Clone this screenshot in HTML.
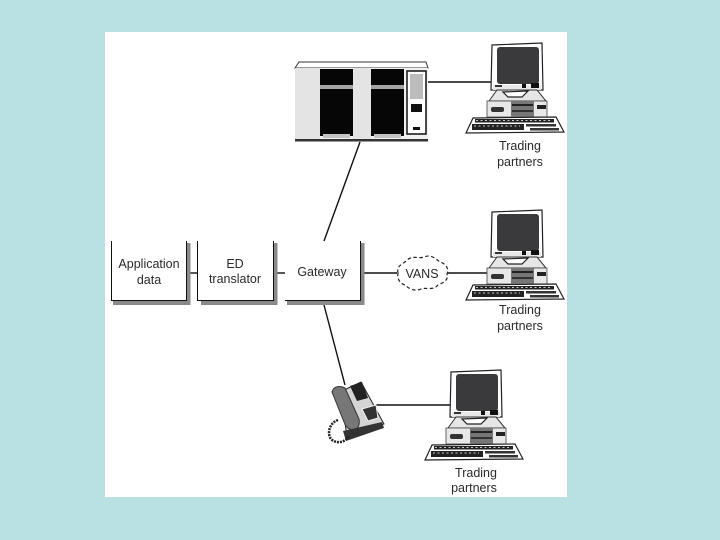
<!DOCTYPE html>
<html>
<head>
<meta charset="utf-8">
<style>
html,body{margin:0;padding:0;background:#b9e1e3;}
svg{display:block;}
text{font-family:"Liberation Sans",sans-serif;font-size:12.5px;fill:#2a2a2a;text-anchor:middle;}
</style>
</head>
<body>
<svg width="720" height="540" viewBox="0 0 720 540" xmlns="http://www.w3.org/2000/svg">
<defs>
<g id="pc">
  <!-- monitor -->
  <path d="M492 212 L542 210 L543 257 L491 257 Z" fill="#fff" stroke="#222" stroke-width="1.2"/>
  <rect x="497" y="214" width="42" height="37" rx="3" fill="#3a3a3c"/>
  <rect x="493" y="252" width="48" height="5" fill="#e8e8e8"/>
  <rect x="495" y="252" width="7" height="2" fill="#333"/>
  <rect x="522" y="251" width="4" height="4" fill="#111"/>
  <rect x="531" y="250" width="8" height="5" fill="#111"/>
  <!-- stand -->
  <path d="M489 268 L497 257 L537 257 L546 268 Z" fill="#e6e6e6" stroke="#333" stroke-width="1"/>
  <path d="M503 259 L528 258 L522 264 L508 264 Z" fill="#fff" stroke="#222" stroke-width="1.2"/>
  <!-- base -->
  <rect x="487" y="268" width="60" height="16" fill="#e8e8e8" stroke="#444" stroke-width=".8"/>
  <rect x="491" y="274" width="13" height="5" rx="2" fill="#333"/>
  <rect x="511" y="268" width="23" height="16" fill="#777"/>
  <rect x="512" y="271" width="21" height="2" fill="#222"/>
  <rect x="512" y="277" width="21" height="2" fill="#333"/>
  <rect x="537" y="272" width="9" height="4" fill="#222"/>
  <!-- keyboard -->
  <path d="M473 285 L556 284 L564 299 L466 300 Z" fill="#fff" stroke="#222" stroke-width="1.2"/>
  <rect x="475" y="286" width="79" height="3.5" fill="#222"/>
  <rect x="472" y="291" width="52" height="6" fill="#222"/>
  <rect x="526" y="291" width="30" height="2.5" fill="#333"/>
  <rect x="530" y="295" width="29" height="2.5" fill="#333"/>
  <path d="M476 287.500h76M474 293h46" stroke="#fff" stroke-width=".7" stroke-dasharray="2 2.500"/>
</g>
</defs>

<rect x="0" y="0" width="720" height="540" fill="#b9e1e3"/>
<rect x="105" y="32" width="462" height="465" fill="#fff"/>

<!-- connectors -->
<g stroke="#111" fill="none" stroke-width="1.4">
  <path d="M428 82H491"/>
  <path d="M360 142L324 241"/>
  <path d="M190 273H197"/>
  <path d="M276 273H285"/>
  <path d="M364 273H397"/>
  <path d="M448 273H487"/>
  <path d="M324 305L345 385"/>
  <path d="M376 405H450"/>
</g>

<!-- server -->
<path d="M299 62H426L428 68H295Z" fill="#fff" stroke="#333" stroke-width="1"/>
<rect x="295" y="68" width="133" height="71" fill="#f0f0f0"/>
<rect x="295" y="68" width="25" height="71" fill="#e4e4e4"/>
<rect x="353" y="68" width="18" height="71" fill="#e4e4e4"/>
<rect x="320" y="69" width="33" height="67" fill="#060606"/>
<rect x="371" y="69" width="33" height="67" fill="#060606"/>
<rect x="320" y="85" width="33" height="4" fill="#a4a4a4"/>
<rect x="371" y="85" width="33" height="4" fill="#a4a4a4"/>
<rect x="323" y="134" width="27" height="4" fill="#c4c4c4"/>
<rect x="374" y="134" width="27" height="4" fill="#c4c4c4"/>
<rect x="407" y="71" width="19" height="63" fill="#fff" stroke="#111" stroke-width="1.500"/>
<rect x="410" y="74" width="13" height="25" fill="#bcbcbc"/>
<rect x="411" y="104" width="11" height="8" fill="#111"/>
<rect x="413" y="127" width="7" height="3" fill="#111"/>
<rect x="295" y="139" width="133" height="2.500" fill="#333"/>

<!-- computers -->
<use href="#pc"/>
<use href="#pc" transform="translate(0,-167)"/>
<use href="#pc" transform="translate(-41,160)"/>

<!-- boxes -->
<g fill="#8a8a8a">
  <rect x="187" y="243" width="3.500" height="62"/>
  <rect x="113" y="301" width="77.500" height="4"/>
  <rect x="274" y="243" width="3.500" height="62"/>
  <rect x="201" y="301" width="76.500" height="4"/>
  <rect x="361" y="243" width="3.500" height="62"/>
  <rect x="287" y="301" width="77.500" height="4"/>
</g>
<g stroke="#111" fill="none" stroke-width="1">
  <path d="M111.500 241V300.500H186.500V241"/>
  <path d="M197.500 241V300.500H273.500V241"/>
  <path d="M285 300.500H360.500V241"/>
</g>

<!-- cloud -->
<path d="M398 273C396 265 404 264 407 260C413 255 419 259 424 257C431 254 436 259 440 262C447 264 449 270 447 274C449 280 443 283 438 285C433 291 426 287 421 289C414 292 408 288 405 285C399 283 397 278 398 273Z" fill="#fff" stroke="#222" stroke-width="1.200" stroke-dasharray="3.500 2.500"/>

<!-- phone -->
<path d="M340 392L361 382L384 424L347 436Z" fill="#d4d4d4" stroke="#222" stroke-width="1"/>
<path d="M332 392C334 385 341 386 345 388L359 419C360 425 358 429 353 430C348 429 346 427 344 422Z" fill="#777" stroke="#333" stroke-width="1"/>
<path d="M350 386L362 382L368 398L357 401Z" fill="#222"/>
<path d="M362 409L376 405L378 418L368 421Z" fill="#333" stroke="#eee" stroke-width="1"/>
<path d="M343 431L382 422L384 428L346 441Z" fill="#333"/>
<path d="M338 420C329 423 327 434 331 439C336 444 345 443 349 436" fill="none" stroke="#222" stroke-width="2.500" stroke-dasharray="2 1"/>

<!-- labels -->
<text x="149" y="268">Application</text>
<text x="149" y="284">data</text>
<text x="235" y="268">ED</text>
<text x="235" y="283">translator</text>
<text x="322" y="276">Gateway</text>
<text x="422" y="278">VANS</text>
<text x="520" y="150">Trading</text>
<text x="520" y="166">partners</text>
<text x="520" y="314">Trading</text>
<text x="520" y="330">partners</text>
<text x="476" y="477">Trading</text>
<text x="474" y="492">partners</text>
</svg>
</body>
</html>
